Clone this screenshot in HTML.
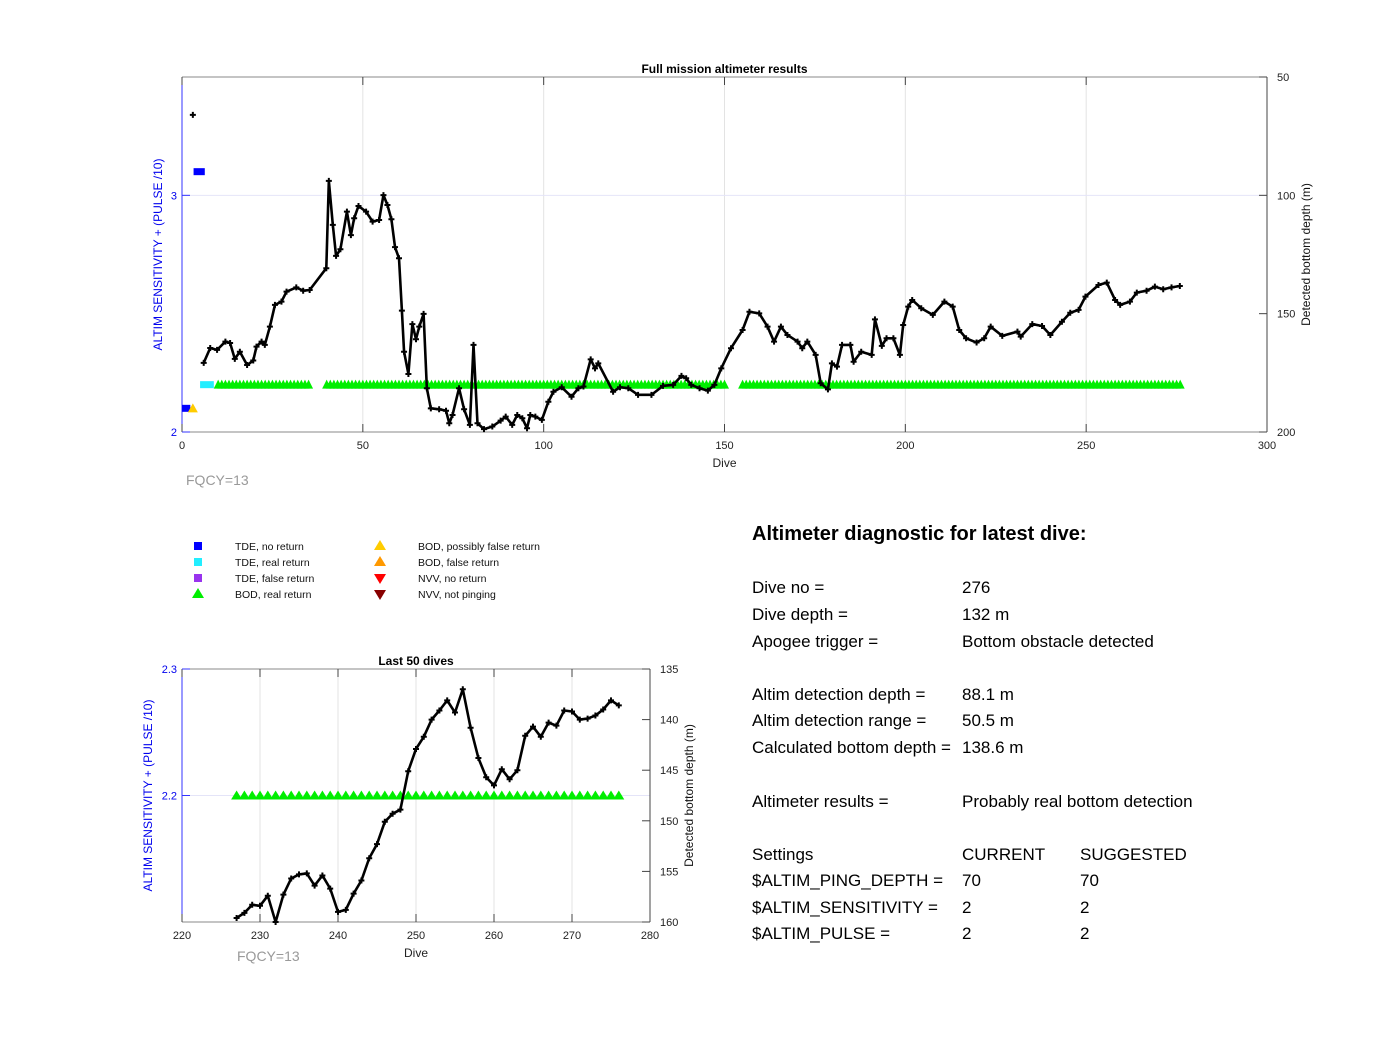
<!DOCTYPE html>
<html><head><meta charset="utf-8"><style>
body{margin:0;background:#fff;width:1400px;height:1038px;overflow:hidden;font-family:"Liberation Sans",Arial,sans-serif}
#panel{position:absolute;left:752px;top:0;font-size:17px;color:#000}
#panel div{position:absolute;white-space:nowrap}
</style></head><body>
<svg id="chart" width="1400" height="1038" style="position:absolute;left:0;top:0" font-family="Liberation Sans, Arial, sans-serif"></svg>
<div id="panel">
<div style="top:523px;font-size:20px;font-weight:bold">Altimeter diagnostic for latest dive:</div>
<div style="top:578px">Dive no =</div><div style="top:578px;left:210px">276</div>
<div style="top:605px">Dive depth =</div><div style="top:605px;left:210px">132 m</div>
<div style="top:632px">Apogee trigger =</div><div style="top:632px;left:210px">Bottom obstacle detected</div>
<div style="top:685px">Altim detection depth =</div><div style="top:685px;left:210px">88.1 m</div>
<div style="top:711px">Altim detection range =</div><div style="top:711px;left:210px">50.5 m</div>
<div style="top:738px">Calculated bottom depth =</div><div style="top:738px;left:210px">138.6 m</div>
<div style="top:792px">Altimeter results =</div><div style="top:792px;left:210px">Probably real bottom detection</div>
<div style="top:845px">Settings</div><div style="top:845px;left:210px">CURRENT</div><div style="top:845px;left:328px">SUGGESTED</div>
<div style="top:871px">$ALTIM_PING_DEPTH =</div><div style="top:871px;left:210px">70</div><div style="top:871px;left:328px">70</div>
<div style="top:898px">$ALTIM_SENSITIVITY =</div><div style="top:898px;left:210px">2</div><div style="top:898px;left:328px">2</div>
<div style="top:924px">$ALTIM_PULSE =</div><div style="top:924px;left:210px">2</div><div style="top:924px;left:328px">2</div>
</div>
<script>
const topDives=[6,7.8,9.7,12,13.3,14.6,16,18,19.7,20.6,22,22.9,24.3,25.7,27.5,28.9,31.6,33.5,35.3,39.9,40.6,41.7,42.6,43.8,45.6,46.7,47.6,48.8,50.9,52.7,54.5,55.7,56.8,57.9,58.9,60,60.8,61.4,62.6,63.7,64.7,65.6,66.8,67.7,68.8,71.1,73,73.9,74.8,76.6,78,79.6,80.6,81.7,83.5,85.8,88.1,89.5,91.3,92.7,94.1,95.4,96.3,97.7,99.5,101.3,102.7,105,107.7,109.6,111,113,114.2,115.1,119.2,121.1,123.4,126.1,129.8,133,135.8,138.1,139.4,140.8,143.1,145.4,147.2,149.1,151.8,155,156.9,159.6,161.9,163.7,165.6,167.4,170.2,171.5,172.9,175.2,176.6,178.6,179.7,181.1,182.5,184.8,185.7,187.8,190.7,191.6,193.5,194.8,196.7,198.5,199.4,200.8,201.9,204.4,207.6,210.8,213.1,214.9,216.8,219.7,221.8,223.6,226.8,231,231.9,235.1,237.8,240.1,243.3,245.6,247.9,249.8,253.4,255.7,258,259.4,262.1,264,266.7,269,271.3,273.6,275.9];
const topDepths=[170.8,164.5,165.3,161.8,162.4,169.1,166.1,171.7,169.8,163.9,161.8,163.2,155.5,146.3,144.9,140.7,138.9,140.3,140,130.8,93.9,112.5,125.6,122.8,106.9,116.8,109.7,104.5,106.9,111.1,110.4,99.9,104.1,110.1,121.9,126.6,148.7,166.1,175.5,154.4,160.8,155.5,150.1,181.5,190,190.4,191,196.3,192.8,181.5,190.4,197,163.2,196.3,198.8,197.7,195.2,193.5,197,192.8,194.2,198.4,192.8,193.5,194.9,187.2,183,181.1,185.1,181.5,180.8,169.3,173.1,171,183,181.1,181.5,184.3,184.3,180.5,180.1,176.3,177.3,180.1,181.5,182.5,180.1,173.1,164.6,156.9,149.2,149.9,155.5,161.8,155.5,159,161.8,164.6,161.8,167.4,179.4,182,171,172.4,163.2,163.2,170.3,166.1,167.4,152.4,163.6,160.4,160.4,167.4,154.8,147,144.2,147.7,150.5,144.9,147,156.9,160.4,162.2,160.4,155.5,159.4,157.6,159.7,154.4,155.2,159,153.4,149.6,148.4,142.8,137.9,136.9,144.2,146.3,144.9,141.1,140.3,138.6,139.7,138.9,138.3];
const greenRanges=[[10,35],[40,150],[155,276]];
const lastDives=[227,228,229,230,231,232,233,234,235,236,237,238,239,240,241,242,243,244,245,246,247,248,249,250,251,252,253,254,255,256,257,258,259,260,261,262,263,264,265,266,267,268,269,270,271,272,273,274,275,276];
const lastDepths=[159.6,159.1,158.3,158.4,157.4,160,157.3,155.7,155.3,155.2,156.4,155.4,156.7,159,158.8,157.2,155.9,153.7,152.3,150.1,149.3,148.9,145.1,142.9,141.7,140,139.1,138.1,139.3,137,140.8,143.8,145.7,146.5,144.9,145.9,145,141.6,140.7,141.7,140.3,140.6,139.1,139.2,140,139.9,139.6,139,138.1,138.6];
const topXTicks=[0,50,100,150,200,250,300];
const topRTicks=[50,100,150,200];
const botXTicks=[220,230,240,250,260,270,280];
const botRTicks=[135,140,145,150,155,160];

const NS='http://www.w3.org/2000/svg';
const svg=document.getElementById('chart');
function el(tag,attrs,parent,txt){const e=document.createElementNS(NS,tag);for(const k in attrs)e.setAttribute(k,attrs[k]);if(txt!==undefined)e.textContent=txt;(parent||svg).appendChild(e);return e;}

function drawChart(o){
  const g=el('g',{});
  
  
  const X=v=>o.x0+(v-o.xmin)/(o.xmax-o.xmin)*(o.x1-o.x0);
  const YR=v=>o.y0+(v-o.rmin)/(o.rmax-o.rmin)*(o.y1-o.y0);
  const YL=v=>o.y1-(v-o.lmin)/(o.lmax-o.lmin)*(o.y1-o.y0);
  // grid
  o.xticks.forEach(t=>{if(t>o.xmin&&t<o.xmax){const l=el('line',{x1:X(t),x2:X(t),y1:o.y0,y2:o.y1,stroke:'#e3e3e3'},g);}});
  o.lticks.forEach(t=>{const y=YL(t);if(y>o.y0+1&&y<o.y1-1){const l=el('line',{x1:o.x0,x2:o.x1,y1:y,y2:y,stroke:'#e4e4f8'},g);}});
  // axes
  el('line',{x1:o.x0,x2:o.x1,y1:o.y0,y2:o.y0,stroke:'#888'},g);
  el('line',{x1:o.x0,x2:o.x1,y1:o.y1,y2:o.y1,stroke:'#888'},g);
  el('line',{x1:o.x1,x2:o.x1,y1:o.y0,y2:o.y1,stroke:'#444'},g);
  el('line',{x1:o.x0,x2:o.x0,y1:o.y0,y2:o.y1,stroke:'#3333ff'},g);
  o.xticks.forEach(t=>{const x=X(t);el('line',{x1:x,x2:x,y1:o.y1,y2:o.y1-8,stroke:'#444'},g);el('line',{x1:x,x2:x,y1:o.y0,y2:o.y0+8,stroke:'#444'},g);
    const tx=el('text',{x:x,y:o.y1+17,'font-size':11,'text-anchor':'middle',fill:'#222'},g,t);});
  o.rticks.forEach(t=>{const y=YR(t);el('line',{x1:o.x1,x2:o.x1-8,y1:y,y2:y,stroke:'#444'},g);
    const tx=el('text',{x:o.x1+10,y:y+4,'font-size':11,fill:'#222'},g,t);});
  o.lticks.forEach(t=>{const y=YL(t);el('line',{x1:o.x0,x2:o.x0+8,y1:y,y2:y,stroke:'#3333ff'},g);
    const tx=el('text',{x:o.x0-5,y:y+4,'font-size':11,'text-anchor':'end',fill:'#0000ee'},g,o.ltickLabels?o.ltickLabels(t):t);});
  const ti=el('text',{x:(o.x0+o.x1)/2,y:o.y0-4,'font-size':12,'font-weight':'bold','text-anchor':'middle'},g,o.title);
  const xl=el('text',{x:(o.x0+o.x1)/2,y:o.y1+35,'font-size':12,'text-anchor':'middle',fill:'#222'},g,'Dive');
  const cy=(o.y0+o.y1)/2;
  const ll=el('text',{x:o.llx,y:cy,'font-size':12,'text-anchor':'middle',fill:'#0000ee',transform:`rotate(-90 ${o.llx} ${cy})`},g,'ALTIM SENSITIVITY + (PULSE /10)');
  const rl=el('text',{x:o.rlx,y:cy,'font-size':12,'text-anchor':'middle',fill:'#111',transform:`rotate(-90 ${o.rlx} ${cy})`},g,'Detected bottom depth (m)');
  const fq=el('text',{x:o.fqx,y:o.fqy,'font-size':14,fill:'#999'},g,'FQCY=13');
  // green triangles
  o.green.forEach(d=>{const x=X(d),y=YL(2.2);const p=el('polygon',{points:`${x-o.tw},${y+4} ${x+o.tw},${y+4} ${x},${y-5}`,fill:'#00ee00'},g);});
  if(o.extra)o.extra(g,X,YL);
  // line
  const pts=o.dives.map((d,i)=>X(d)+','+YR(o.depths[i])).join(' ');
  const pl=el('polyline',{points:pts,fill:'none',stroke:'#000','stroke-width':2.6,'stroke-linejoin':'round'},g);
  o.dives.forEach((d,i)=>{const x=X(d),y=YR(o.depths[i]);const m=el('path',{d:`M${x-3},${y}H${x+3}M${x},${y-3}V${y+3}`,stroke:'#000','stroke-width':2},g);});
}

const greenTop=[];greenRanges.forEach(r=>{for(let d=r[0];d<=r[1];d++)greenTop.push(d);});
drawChart({name:'full-mission-chart',x0:182,x1:1267,y0:77,y1:432,xmin:0,xmax:300,rmin:50,rmax:200,lmin:2,lmax:3.5,
  xticks:topXTicks,rticks:topRTicks,lticks:[2,3],title:'Full mission altimeter results',llx:162,rlx:1310,fqx:186,fqy:485,
  dives:topDives,depths:topDepths,green:greenTop,tw:4.5,
  extra:(g,X,YL)=>{
    let r=el('rect',{x:X(0),y:YL(2.1)-3.5,width:X(2.3)-X(0),height:7,fill:'#0000ff'},g);
    r=el('rect',{x:X(3.2),y:YL(3.1)-3.5,width:X(6.3)-X(3.2),height:7,fill:'#0000ff'},g);
    r=el('rect',{x:X(5),y:YL(2.2)-3.5,width:X(8.8)-X(5),height:7,fill:'#22eeff'},g);
    const x=X(3),y=YL(2.1);r=el('polygon',{points:`${x-5},${y+4} ${x+5},${y+4} ${x},${y-5}`,fill:'#ffcc00'},g);
    const px=X(3),py=YL(3.34);r=el('path',{d:`M${px-3},${py}H${px+3}M${px},${py-3}V${py+3}`,stroke:'#000','stroke-width':2},g);
  }});
drawChart({name:'last-50-dives-chart',x0:182,x1:650,y0:669,y1:922,xmin:220,xmax:280,rmin:135,rmax:160,lmin:2.1,lmax:2.3,
  xticks:botXTicks,rticks:botRTicks,lticks:[2.2,2.3],ltickLabels:t=>t.toFixed(1),title:'Last 50 dives',llx:152,rlx:693,fqx:237,fqy:961,
  dives:lastDives,depths:lastDepths,green:lastDives,tw:5.5});

// legend
const legend=el('g',{});


const legItems=[[198,546,'sq','#0000ff','TDE, no return',235],[198,562,'sq','#22eeff','TDE, real return',235],[198,578,'sq','#9933ee','TDE, false return',235],[198,594,'up','#00ee00','BOD, real return',235],
[380,546,'up','#ffcc00','BOD, possibly false return',418],[380,562,'up','#ff9900','BOD, false return',418],[380,578,'dn','#ff0000','NVV, no return',418],[380,594,'dn','#880000','NVV, not pinging',418]];
legItems.forEach(it=>{const [x,y,s,c,t,tx]=it;let m;
  if(s==='sq')m=el('rect',{x:x-4,y:y-4,width:8,height:8,fill:c},legend);
  else if(s==='up')m=el('polygon',{points:`${x-6},${y+4} ${x+6},${y+4} ${x},${y-6}`,fill:c},legend);
  else m=el('polygon',{points:`${x-6},${y-4} ${x+6},${y-4} ${x},${y+6}`,fill:c},legend);
  
  
  const te=el('text',{x:tx,y:y+4,'font-size':10.5,fill:'#111'},legend,t);
  
  
});
</script>
</body></html>
